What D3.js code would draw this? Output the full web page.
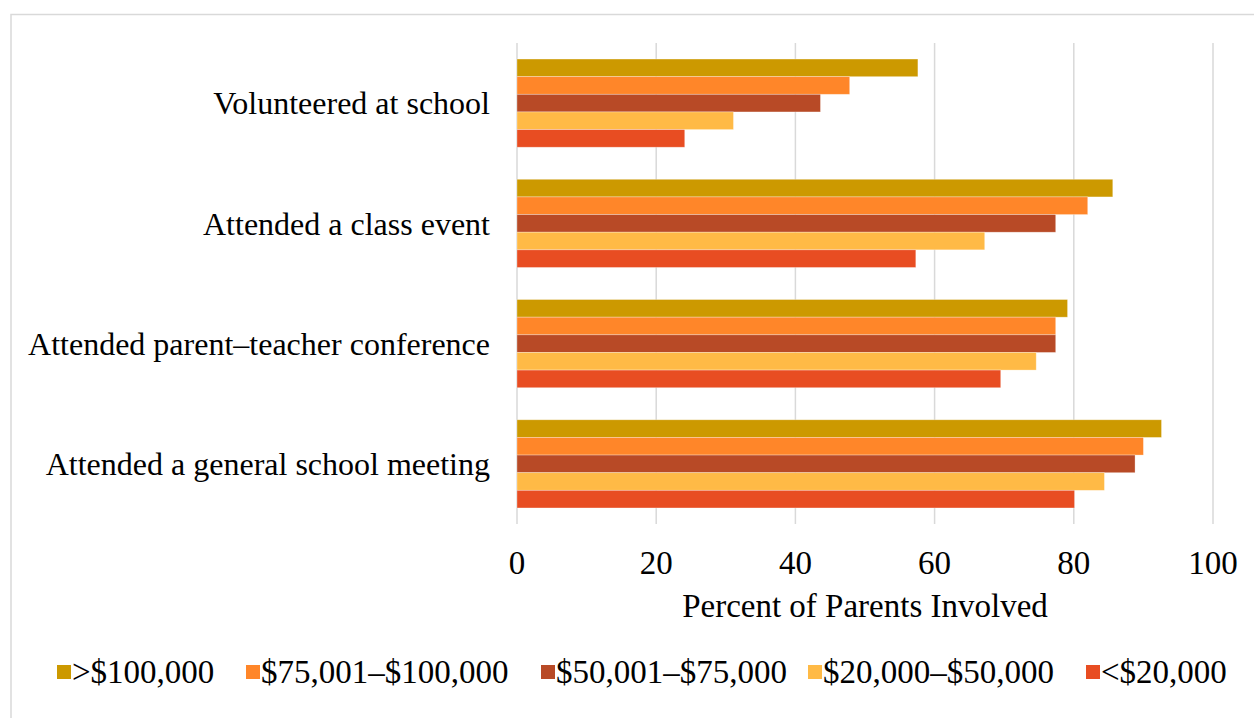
<!doctype html>
<html>
<head>
<meta charset="UTF-8">
<title>Parent involvement by income</title>
<style>
  body { margin: 0; background: #fff; }
  svg text { font-family: "Liberation Serif", "Times New Roman", serif; fill: #000; }
</style>
</head>
<body>
<div id="chart"></div>
<script src="https://cdn.jsdelivr.net/npm/d3@7"></script>
<script>
  var categories = [
    "Volunteered at school",
    "Attended a class event",
    "Attended parent\u2013teacher conference",
    "Attended a general school meeting"
  ];
  var series = [">$100,000", "$75,001\u2013$100,000", "$50,001\u2013$75,000", "$20,000\u2013$50,000", "<$20,000"];
  var colors = ["#cc9900", "#ff8629", "#b84a26", "#ffba46", "#e84d22"];
  // one array per income group, in category order
  var over100k = [57.6, 85.6, 79.1, 92.6];
  var from75k = [47.8, 82.0, 77.4, 90.0];
  var from50k = [43.6, 77.4, 77.4, 88.8];
  var from20k = [31.1, 67.2, 74.6, 84.4];
  var under20k = [24.1, 57.3, 69.5, 80.1];
  var xTicks = [0, 20, 40, 60, 80, 100];

  var values = [over100k, from75k, from50k, from20k, under20k];

  var width = 1254, height = 718;
  var plotLeft = 517, plotRight = 1213, plotTop = 43, plotBottom = 524;
  var fontSize = "33px";

  var svg = d3.select("#chart").append("svg")
    .attr("width", width)
    .attr("height", height);

  // outer frame (only top and left edges visible)
  svg.append("rect")
    .attr("x", 11).attr("y", 14.5)
    .attr("width", 1300).attr("height", 800)
    .attr("fill", "none")
    .attr("stroke", "#d9d9d9")
    .attr("stroke-width", 1.5);

  var x = d3.scaleLinear().domain([0, 100]).range([plotLeft, plotRight]);
  var y = d3.scaleBand().domain(categories).range([plotTop, plotBottom])
    .paddingInner(32 / 120).paddingOuter(16 / 120);
  var yInner = d3.scaleBand().domain(series).range([0, y.bandwidth()]);

  // gridlines
  svg.append("g").selectAll("line")
    .data(xTicks)
    .join("line")
    .attr("x1", function(d) { return x(d); })
    .attr("x2", function(d) { return x(d); })
    .attr("y1", plotTop).attr("y2", plotBottom)
    .attr("stroke", "#d9d9d9")
    .attr("stroke-width", 1.5);

  // bars
  series.forEach(function(s, i) {
    svg.append("g").selectAll("rect")
      .data(values[i])
      .join("rect")
      .attr("x", x(0))
      .attr("y", function(d, j) { return y(categories[j]) + yInner(s); })
      .attr("width", function(d) { return x(d) - x(0); })
      .attr("height", yInner.bandwidth())
      .attr("fill", colors[i])
      .attr("stroke", "#fff")
      .attr("stroke-opacity", 0.4)
      .attr("stroke-width", 0.75);
  });

  // category labels
  svg.append("g").selectAll("text")
    .data(categories)
    .join("text")
    .attr("x", 490)
    .attr("y", function(d) { return y(d) + y.bandwidth() / 2; })
    .attr("dy", "0.35em")
    .attr("text-anchor", "end")
    .style("font-size", "32px")
    .text(function(d) { return d; });

  // x tick labels
  svg.append("g").selectAll("text")
    .data(xTicks)
    .join("text")
    .attr("x", function(d) { return x(d); })
    .attr("y", 574)
    .attr("text-anchor", "middle")
    .style("font-size", fontSize)
    .text(function(d) { return d; });

  svg.append("text")
    .attr("x", (plotLeft + plotRight) / 2)
    .attr("y", 617)
    .attr("text-anchor", "middle")
    .style("font-size", fontSize)
    .text("Percent of Parents Involved");

  // legend
  var legendX = [57, 246, 541, 808, 1086];
  var legend = svg.append("g").selectAll("g")
    .data(series)
    .join("g")
    .attr("transform", function(d, i) { return "translate(" + legendX[i] + ",665)"; });
  legend.append("rect")
    .attr("width", 14).attr("height", 14)
    .attr("fill", function(d, i) { return colors[i]; });
  legend.append("text")
    .attr("x", 15)
    .attr("y", 18)
    .style("font-size", fontSize)
    .text(function(d) { return d; });
</script>
</body>
</html>
